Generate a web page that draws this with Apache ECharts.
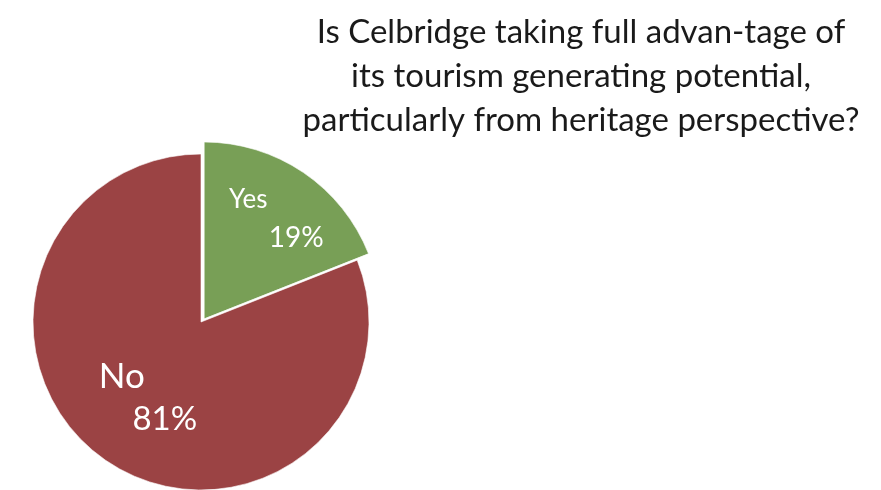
<!DOCTYPE html>
<html><head><meta charset="utf-8">
<script src="https://cdn.jsdelivr.net/npm/echarts@6/dist/echarts.min.js"></script>
<style>html,body{margin:0;padding:0;background:#fff}#c{width:881px;height:490px}</style>
</head><body><div id="c"></div>
<script>
const categories = ['Yes', 'No'];
const values = [19, 81];
const colors = ['#789F56', '#9B4344'];
const titleLines = ['Is Celbridge taking full advan-tage of', 'its tourism generating potential,', 'particularly from heritage perspective?'];

const FONT = 'Lato, "Open Sans", sans-serif';
function dataFor(showIdx, withLabel, labelCfg) {
  return categories.map((c, i) => ({
    name: c, value: values[i],
    itemStyle: { color: i === showIdx && !withLabel ? colors[i] : 'rgba(0,0,0,0)', borderWidth: withLabel ? 0 : 1, borderColor: 'rgba(255,255,255,0.6)' },
    label: { show: withLabel && i === showIdx, ...(labelCfg || {}) }
  }));
}
const yesLabel = {
  position: 'inside', color: '#fff', fontFamily: FONT,
  formatter: p => '{n|' + p.name + '}\n{p|' + p.value + '%}',
  rich: {
    n: { fontSize: 26, color: '#fff', fontFamily: FONT, lineHeight: 38, padding: [0, 48, 0, 0] },
    p: { fontSize: 28, color: '#fff', fontFamily: FONT, lineHeight: 38, padding: [0, 0, 0, 48] }
  }
};
const noLabel = {
  position: 'inside', color: '#fff', fontFamily: FONT,
  formatter: p => '{n|' + p.name + '}\n{p|' + p.value + '%}',
  rich: {
    n: { fontSize: 35, color: '#fff', fontFamily: FONT, lineHeight: 43, padding: [0, 55, 0, 0] },
    p: { fontSize: 33, color: '#fff', fontFamily: FONT, lineHeight: 43, padding: [0, 0, 0, 31] }
  }
};
const base = { type: 'pie', startAngle: 90, clockwise: true, silent: true, animation: false, labelLine: { show: false }, emphasis: { disabled: true } };
const chart = echarts.init(document.getElementById('c'));
chart.setOption({
  backgroundColor: '#fff',
  title: {
    text: titleLines.join('\n'), left: 576, top: 5, textAlign: 'center',
    textStyle: { fontFamily: FONT, fontSize: 33, fontWeight: 'normal', color: '#1a1a1a', lineHeight: 44 }
  },
  series: [
    { ...base, center: [201, 322], radius: [0, 168], data: dataFor(1, false) },
    { ...base, center: [204, 319], radius: [0, 177], data: dataFor(0, false) },
    { ...base, center: [201, 322], radius: [10, 168], data: dataFor(1, true, noLabel) },
    { ...base, center: [204, 319], radius: [60, 177], data: dataFor(0, true, yesLabel) }
  ]
});
</script></body></html>
